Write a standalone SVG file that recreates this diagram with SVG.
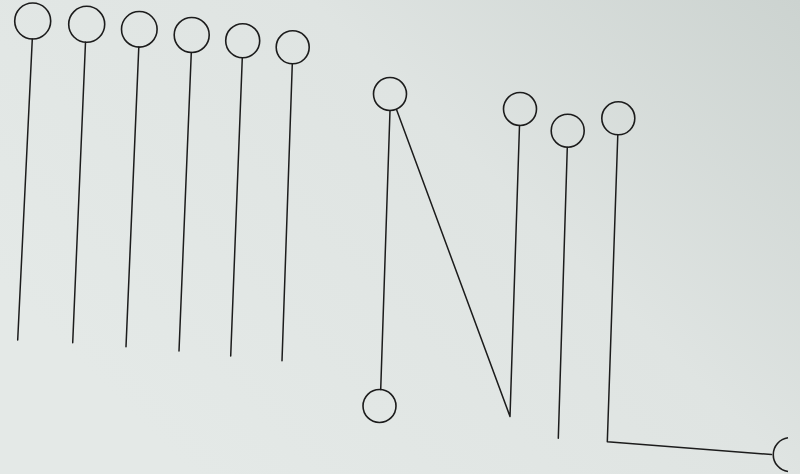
<svg xmlns="http://www.w3.org/2000/svg" width="800" height="474" viewBox="0 0 800 474">
<defs>
<linearGradient id="bg" x1="0" y1="0.6" x2="1" y2="0">
<stop offset="0" stop-color="#e4e9e7"/>
<stop offset="0.55" stop-color="#dfe4e2"/>
<stop offset="1" stop-color="#ccd3d0"/>
</linearGradient>
<style>
.n{fill:none;stroke:#1c1c1c;stroke-width:1.6}
.c{fill:none;stroke:#1c1c1c;stroke-width:1.5;stroke-linecap:round;stroke-linejoin:round}
</style>
</defs>
<rect width="800" height="474" fill="url(#bg)"/>
<g id="n1"><circle class="n" cx="32.7" cy="21" r="18"/></g>
<g id="n2"><circle class="n" cx="86.7" cy="24.3" r="18"/></g>
<g id="n3"><circle class="n" cx="139.3" cy="29.3" r="17.8"/></g>
<g id="n4"><circle class="n" cx="191.7" cy="35" r="17.5"/></g>
<g id="n5"><circle class="n" cx="242.7" cy="40.7" r="17"/></g>
<g id="n6"><circle class="n" cx="292.7" cy="47.3" r="16.5"/></g>
<g id="n7"><circle class="n" cx="390" cy="94" r="16.5"/></g>
<g id="n8"><circle class="n" cx="379.5" cy="406" r="16.5"/></g>
<g id="n9"><circle class="n" cx="520" cy="109" r="16.5"/></g>
<g id="n10"><circle class="n" cx="567.7" cy="130.7" r="16.5"/></g>
<g id="n11"><circle class="n" cx="618.3" cy="118.3" r="16.5"/></g>
<g id="n12"><path class="n" d="M788 437.8 A17 17 0 0 0 788 471.5"/></g>
<g id="connectors">
<line class="c" x1="32.3" y1="39" x2="17.7" y2="340"/>
<line class="c" x1="85.5" y1="42.3" x2="72.7" y2="342.7"/>
<line class="c" x1="138.8" y1="47.1" x2="126" y2="346.7"/>
<line class="c" x1="191.3" y1="52.5" x2="179" y2="351"/>
<line class="c" x1="242.3" y1="57.7" x2="230.7" y2="356"/>
<line class="c" x1="292.3" y1="63.8" x2="282" y2="360.7"/>
<line class="c" x1="390" y1="110.5" x2="380.7" y2="389.5"/>
<polyline class="c" points="396.5,109.5 510,416.5 519.5,125.5"/>
<line class="c" x1="567.3" y1="147.2" x2="558.3" y2="438.3"/>
<polyline class="c" points="617.8,134.8 607.3,441.7 771.5,454.5"/>
</g>
</svg>
